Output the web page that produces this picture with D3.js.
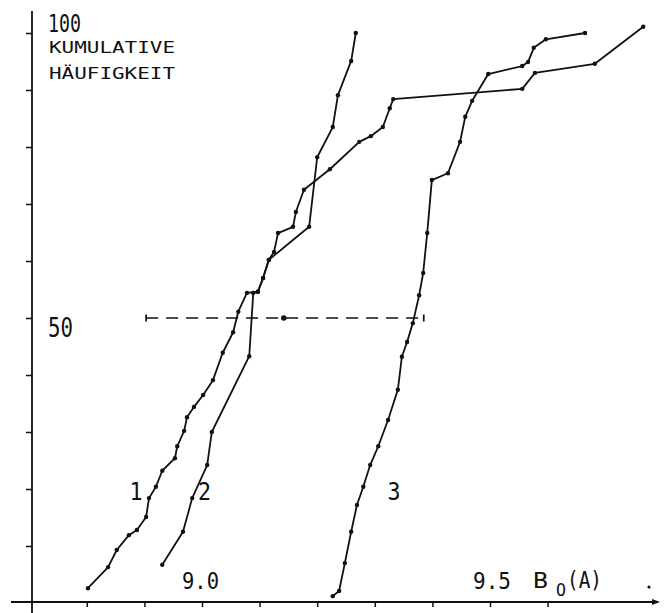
<!DOCTYPE html>
<head>
  <meta charset="utf-8">
  <style>
    body { margin: 0; background: #fff; }
    svg text { font-family: "DejaVu Sans Mono", "Liberation Mono", monospace; fill: #111; }
  </style>
</head>
<body>
<script src="https://cdnjs.cloudflare.com/ajax/libs/d3/7.8.5/d3.min.js"></script>
<script>

// cumulative curves, x = B0 in Angstrom, y = cumulative frequency in %
var curve1X = [8.802, 8.837, 8.852, 8.873, 8.887, 8.903, 8.908, 8.920, 8.931, 8.953, 8.957, 8.969, 8.974, 8.986, 9.002, 9.019, 9.036, 9.054, 9.063, 9.078, 9.097, 9.106, 9.116, 9.186, 9.200, 9.227, 9.236, 9.259, 9.267];
var curve1Y = [2.6, 6.3, 9.3, 11.9, 12.8, 15.1, 18.4, 20.4, 23.2, 25.4, 27.5, 30.2, 32.6, 34.4, 36.5, 39.1, 43.9, 47.5, 51.1, 54.4, 54.6, 57.0, 60.2, 66.0, 78.2, 83.5, 89.1, 95.1, 100];

var curve2X = [8.931, 8.967, 8.983, 9.009, 9.017, 9.082, 9.089, 9.097, 9.106, 9.116, 9.125, 9.132, 9.158, 9.163, 9.177, 9.222, 9.273, 9.293, 9.314, 9.326, 9.332, 9.556, 9.578, 9.682, 9.766];
var curve2Y = [6.7, 12.5, 18.4, 24.2, 30.0, 43.3, 54.4, 54.6, 57.0, 60.2, 61.6, 64.9, 66.0, 68.6, 72.5, 76.1, 80.9, 81.9, 83.5, 86.8, 88.4, 90.2, 93.0, 94.6, 101.1];

var curve3X = [9.227, 9.238, 9.248, 9.259, 9.269, 9.280, 9.292, 9.306, 9.323, 9.340, 9.347, 9.356, 9.366, 9.377, 9.384, 9.391, 9.399, 9.427, 9.448, 9.457, 9.469, 9.497, 9.556, 9.566, 9.576, 9.597, 9.665];
var curve3Y = [1.2, 2.1, 7.0, 12.5, 17.2, 20.4, 24.2, 27.5, 32.1, 37.4, 43.2, 45.8, 49.1, 54.0, 57.9, 64.9, 74.2, 75.4, 80.9, 85.3, 88.1, 92.8, 94.2, 94.9, 97.4, 98.9, 100];

var curveLabels = ["1", "2", "3"];
var labelAt = [[8.874, 18], [8.993, 18], [9.322, 18]];

// spread bar at 50 %: low end, mean, high end
var spread = [8.903, 9.142, 9.385];

var xTicks = [8.8, 8.9, 9.0, 9.1, 9.2, 9.3, 9.4, 9.5, 9.6];
var xTickLabels = ["9.0", "9.5"];
var yTicks = [10, 20, 30, 40, 50, 60, 70, 80, 90, 100];

var svg = d3.select("body").append("svg")
    .attr("width", 667)
    .attr("height", 613);

var x = d3.scaleLinear().domain([9.0, 9.5]).range([202, 490]);
var y = d3.scaleLinear().domain([0, 100]).range([603, 33]);

var axisX = 32, axisY = 602;

// axes lines
svg.append("line")
    .attr("x1", axisX).attr("x2", axisX)
    .attr("y1", 11).attr("y2", 613)
    .attr("stroke", "#111").attr("stroke-width", 1.8);

svg.append("line")
    .attr("x1", 11).attr("x2", 658)
    .attr("y1", axisY).attr("y2", axisY)
    .attr("stroke", "#111").attr("stroke-width", 1.8);

svg.append("path")
    .attr("d", "M660," + axisY + " l-8,-3 l0,6 z")
    .attr("fill", "#111");

var yAxis = svg.append("g")
    .attr("transform", "translate(" + axisX + ",0)")
    .call(d3.axisLeft(y).tickValues(yTicks).tickSize(6).tickFormat(""));
yAxis.select(".domain").remove();
yAxis.selectAll("line").attr("stroke", "#111").attr("stroke-width", 1.5);

var xAxis = svg.append("g")
    .attr("transform", "translate(0," + axisY + ")")
    .call(d3.axisBottom(x).tickValues(xTicks).tickSize(5).tickFormat(""));
xAxis.select(".domain").remove();
xAxis.selectAll("line").attr("stroke", "#111").attr("stroke-width", 1.5);

// curves
var line = d3.line()
    .x(function(d) { return x(d[0]); })
    .y(function(d) { return y(d[1]); });

var curves = [d3.zip(curve1X, curve1Y), d3.zip(curve2X, curve2Y), d3.zip(curve3X, curve3Y)];

curves.forEach(function(pts) {
  svg.append("path")
      .datum(pts)
      .attr("d", line)
      .attr("fill", "none")
      .attr("stroke", "#111")
      .attr("stroke-width", 1.8)
      .attr("stroke-linejoin", "round");

  svg.selectAll(null)
      .data(pts)
      .enter()
      .append("circle")
      .attr("cx", function(d) { return x(d[0]); })
      .attr("cy", function(d) { return y(d[1]); })
      .attr("r", 2.2)
      .attr("fill", "#111");
});

// dashed spread line at 50 %
svg.append("line")
    .attr("x1", x(spread[0])).attr("x2", x(spread[2]))
    .attr("y1", y(50)).attr("y2", y(50))
    .attr("stroke", "#111").attr("stroke-width", 1.7)
    .attr("stroke-dasharray", "12,8");

[spread[0], spread[2]].forEach(function(v) {
  svg.append("line")
      .attr("x1", x(v)).attr("x2", x(v))
      .attr("y1", y(50) - 3.5).attr("y2", y(50) + 3.5)
      .attr("stroke", "#111").attr("stroke-width", 1.7);
});

svg.append("circle")
    .attr("cx", x(spread[1])).attr("cy", y(50))
    .attr("r", 2.8).attr("fill", "#111");

// texts
function label(t, px, py, size, len) {
  var el = svg.append("text")
      .attr("x", px).attr("y", py)
      .style("font-size", size + "px")
      .text(t);
  if (len) el.attr("textLength", len).attr("lengthAdjust", "spacingAndGlyphs");
  return el;
}

label("100", 48, 32, 24, 33);
label("KUMULATIVE", 49, 53, 16, 126);
label("HÄUFIGKEIT", 49, 79, 16, 126);
label("50", 48, 337, 26, 25);

label(xTickLabels[0], 182, 589, 23, 37);
label(xTickLabels[1], 473, 589, 23, 38);
label("B", 533, 588, 21, 15);
label("O", 556, 596, 17, 10);
label("(A)", 567, 588, 23, 35);

curveLabels.forEach(function(t, i) {
  label(t, x(labelAt[i][0]), y(labelAt[i][1]), 24, 13);
});

svg.append("circle")
    .attr("cx", 649).attr("cy", 587)
    .attr("r", 1.6).attr("fill", "#111");

</script>
</body>
